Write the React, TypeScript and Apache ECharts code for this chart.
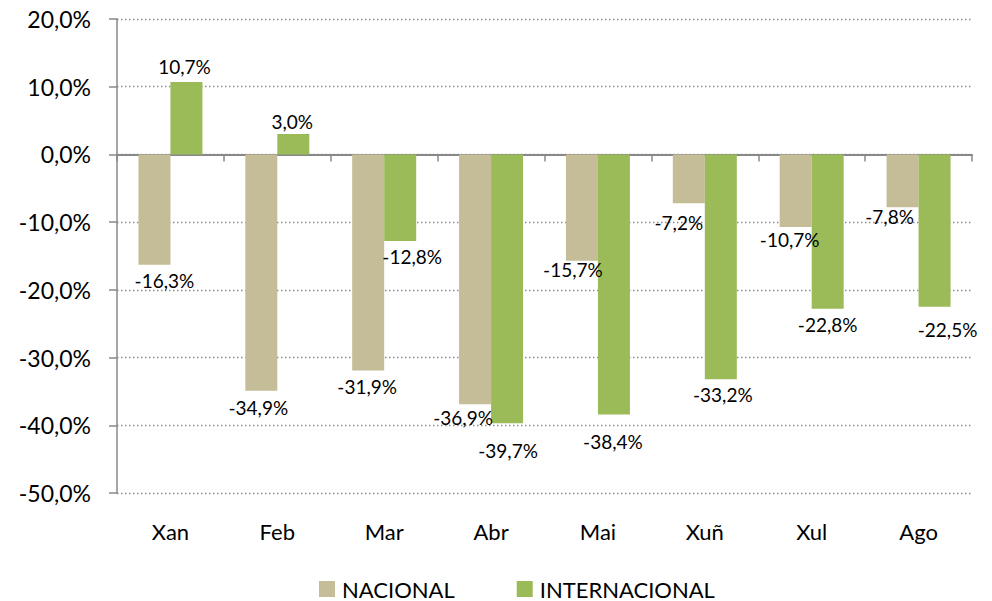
import React, { useEffect, useRef } from 'react';
import * as echarts from 'echarts';

const categories = ['Xan', 'Feb', 'Mar', 'Abr', 'Mai', 'Xuñ', 'Xul', 'Ago'];
const nacional = [-16.3, -34.9, -31.9, -36.9, -15.7, -7.2, -10.7, -7.8];
const internacional = [10.7, 3.0, -12.8, -39.7, -38.4, -33.2, -22.8, -22.5];
const seriesNames = ['NACIONAL', 'INTERNACIONAL'];
const yMin = -50;
const yMax = 20;
const yStep = 10;

// label nudges (style only): [dx, distance of label centre from bar end]
const nacNudge = [[10, 16], [-3, 17], [-1, 16], [-12, 13], [-9, 9], [-10, 19], [-6, 13], [-13, 9]];
const intNudge = [[-2, -15], [-1, -13], [12, 15], [1, 27], [-1, 27], [2, 15], [0, 16], [13, 23]];

const FONT = 'Lato, "Open Sans", sans-serif';
const fmt = (v: number) => v.toFixed(1).replace('.', ',') + '%';
const LH = 20;

function buildData(values: number[], nudges: number[][]) {
  return values.map((v, i) => {
    const [dx, dc] = nudges[i];
    const neg = v < 0;
    return {
      value: v,
      label: {
        show: true,
        position: neg ? 'bottom' : 'top',
        distance: 0,
        offset: [dx, neg ? dc - LH / 2 : dc + LH / 2],
      },
    };
  });
}

export default function App() {
  const ref = useRef<HTMLDivElement>(null);
  useEffect(() => {
    const chart = echarts.init(ref.current!, null, { renderer: 'svg' });
    const axisColor = '#888888';
    chart.setOption({
      animation: false,
      textStyle: { fontFamily: FONT },
      grid: { left: 117, right: 20, top: 19, bottom: 108, containLabel: false },
      legend: {
        left: 319,
        top: 578,
        icon: 'rect',
        itemWidth: 16,
        itemHeight: 16,
        itemGap: 62,
        padding: 0,
        data: seriesNames,
        textStyle: { fontSize: 22, lineHeight: 20, color: '#000', fontFamily: FONT, padding: [0, 0, 0, 2] },
      },
      xAxis: [
        {
          type: 'category',
          data: categories,
          position: 'bottom',
          axisLine: { show: true, onZero: true, lineStyle: { color: axisColor, width: 2 } },
          axisTick: { show: true, length: 7, lineStyle: { color: axisColor, width: 1.5 } },
          axisLabel: { show: false },
          splitLine: { show: false },
        },
        {
          type: 'category',
          data: categories,
          position: 'bottom',
          axisLine: { show: false, onZero: false },
          axisTick: { show: false },
          axisLabel: { show: true, margin: 27, fontSize: 22, color: '#000', fontFamily: FONT },
          splitLine: { show: false },
        },
      ],
      yAxis: {
        type: 'value',
        min: yMin,
        max: yMax,
        interval: yStep,
        axisLine: { show: true, lineStyle: { color: axisColor, width: 1.5 } },
        axisTick: { show: true, length: 8, lineStyle: { color: axisColor, width: 1.5 } },
        axisLabel: { margin: 26, fontSize: 23, color: '#000', fontFamily: FONT, formatter: (v: number) => fmt(v) },
        splitLine: { show: true, lineStyle: { color: '#8c8c8c', width: 1.3, type: [1.5, 2.5] } },
      },
      series: [
        {
          name: seriesNames[0],
          type: 'bar',
          xAxisIndex: 0,
          barWidth: 32,
          barGap: '0%',
          itemStyle: { color: '#C4BD97' },
          label: { show: true, fontSize: 19, lineHeight: LH, color: '#000', fontFamily: FONT, formatter: (p: any) => fmt(p.value) },
          data: buildData(nacional, nacNudge),
        },
        {
          name: seriesNames[1],
          type: 'bar',
          xAxisIndex: 0,
          barWidth: 32,
          barGap: '0%',
          itemStyle: { color: '#9BBB59' },
          label: { show: true, fontSize: 19, lineHeight: LH, color: '#000', fontFamily: FONT, formatter: (p: any) => fmt(p.value) },
          data: buildData(internacional, intNudge),
        },
      ],
    });
    return () => chart.dispose();
  }, []);
  return <div ref={ref} style={{ position: 'fixed', left: 0, top: 0, width: 992, height: 601, background: '#fff' }} />;
}
